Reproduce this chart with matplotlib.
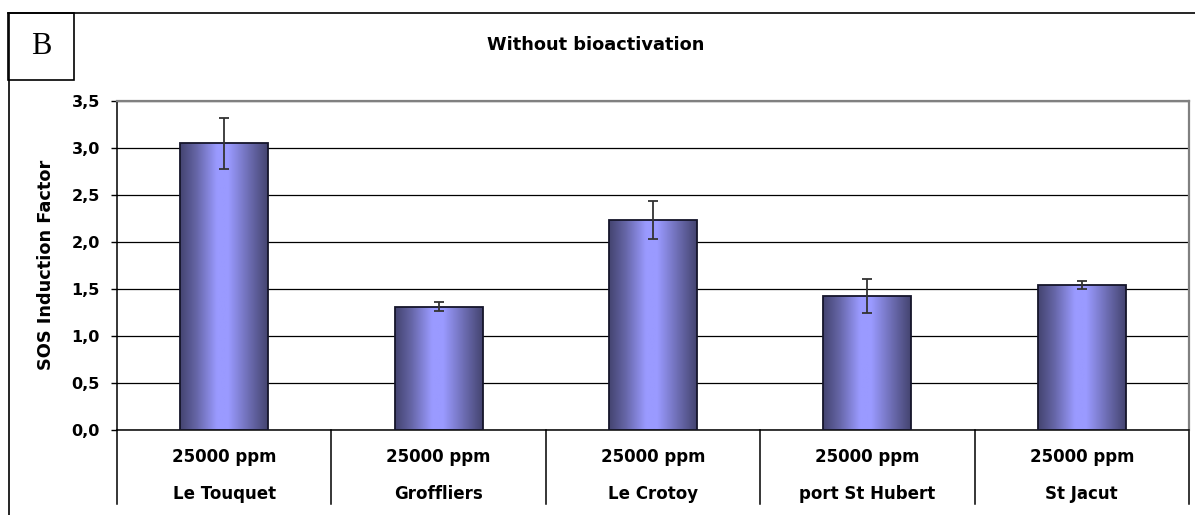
import numpy as np
import matplotlib
matplotlib.use("Agg")
import matplotlib.pyplot as plt
from matplotlib.colors import LinearSegmentedColormap
from matplotlib.patches import Rectangle
from matplotlib.lines import Line2D
import matplotlib.transforms as mtransforms

# ---- data ----
sites = ["Le Touquet", "Groffliers", "Le Crotoy", "port St Hubert", "St Jacut"]
doses = ["25000 ppm", "25000 ppm", "25000 ppm", "25000 ppm", "25000 ppm"]
sos_if = [3.05, 1.31, 2.23, 1.42, 1.54]
sos_err = [0.27, 0.05, 0.205, 0.18, 0.043]
yticks = [0.0, 0.5, 1.0, 1.5, 2.0, 2.5, 3.0, 3.5]
ytick_labels = ["0,0", "0,5", "1,0", "1,5", "2,0", "2,5", "3,0", "3,5"]
title = "Without bioactivation"
ylabel = "SOS Induction Factor"
panel = "B"

W, H = 1195, 515
fig = plt.figure(figsize=(W / 100, H / 100), dpi=100)
fig.patch.set_facecolor("white")

def fx(px):
    return px / W

def fy(py):
    return (H - py) / H

ax_left, ax_right, ax_top, ax_bot = 117, 1189, 101, 429.5
ax = fig.add_axes([fx(ax_left), fy(ax_bot), (ax_right - ax_left) / W, (ax_bot - ax_top) / H])

x = np.arange(len(sites))
bars = ax.bar(x, sos_if, width=0.41, color="none", edgecolor="#15152a",
              linewidth=1.3, zorder=3)

cmap = LinearSegmentedColormap.from_list(
    "barg",
    [(0.0, "#444470"), (0.18, "#6464a4"), (0.42, "#9a9aff"), (0.55, "#9a9aff"),
     (0.8, "#6a6aae"), (1.0, "#444470")])
grad = np.linspace(0, 1, 256).reshape(1, -1)
for b in bars:
    x0, y0 = b.get_x(), b.get_y()
    w, h = b.get_width(), b.get_height()
    im = ax.imshow(grad, cmap=cmap, extent=[x0, x0 + w, y0, y0 + h],
                   aspect="auto", zorder=2, interpolation="bilinear")
    im.set_clip_path(b)

ax.errorbar(x, sos_if, yerr=sos_err, fmt="none", ecolor="#333333",
            elinewidth=1.3, capsize=3.8, capthick=1.3, zorder=4)

ax.set_xlim(-0.5, len(sites) - 0.5)
ax.set_ylim(0, 3.5)
ax.set_yticks(yticks)
ax.set_yticklabels(ytick_labels, fontfamily="DejaVu Sans", fontweight="bold", fontsize=11.5)
ax.set_xticks([])
ax.tick_params(axis="y", direction="out", length=4.3, width=1.0, pad=8, color="black")
ax.yaxis.grid(True, color="black", linewidth=0.9)
ax.set_axisbelow(True)
for s in ("left", "bottom"):
    ax.spines[s].set_color("black")
    ax.spines[s].set_linewidth(1.1)
for s in ("top", "right"):
    ax.spines[s].set_color("#808080")
    ax.spines[s].set_linewidth(1.6)

# category table below axis
trans = mtransforms.blended_transform_factory(ax.transData, ax.transAxes)
ah = ax_bot - ax_top
y_sep_bottom = (ax_bot - 504) / ah
for i in range(len(sites) + 1):
    ax.add_line(Line2D([i - 0.5, i - 0.5], [0, y_sep_bottom], transform=trans,
                       color="black", linewidth=1.1, clip_on=False))
row1 = (ax_bot - 457) / ah
row2 = (ax_bot - 494) / ah
for i in range(len(sites)):
    ax.text(i, row1, doses[i], transform=trans, ha="center", va="center",
            fontfamily="DejaVu Sans", fontweight="bold", fontsize=12, clip_on=False)
    ax.text(i, row2, sites[i], transform=trans, ha="center", va="center",
            fontfamily="DejaVu Sans", fontweight="bold", fontsize=12, clip_on=False)

# labels
fig.text(fx(46), fy(265), ylabel, rotation=90, ha="center", va="center",
         fontfamily="DejaVu Sans", fontweight="bold", fontsize=12.8)
fig.text(fx(596), fy(45), title, ha="center", va="center",
         fontfamily="DejaVu Sans", fontweight="bold", fontsize=12.8)

# outer frame and panel box
fig.add_artist(Line2D([fx(8), fx(1195)], [fy(13), fy(13)], transform=fig.transFigure,
                      color="black", linewidth=1.2))
fig.add_artist(Line2D([fx(9), fx(9)], [fy(13), fy(515)], transform=fig.transFigure,
                      color="black", linewidth=1.2))
fig.add_artist(Rectangle((fx(8), fy(80)), fx(74) - fx(8), fy(13) - fy(80),
                         transform=fig.transFigure, facecolor="white",
                         edgecolor="black", linewidth=1.2))
fig.text(fx(41), fy(46), panel, ha="center", va="center",
         fontfamily="Liberation Serif", fontsize=22)

fig.savefig("out.png", dpi=100)
